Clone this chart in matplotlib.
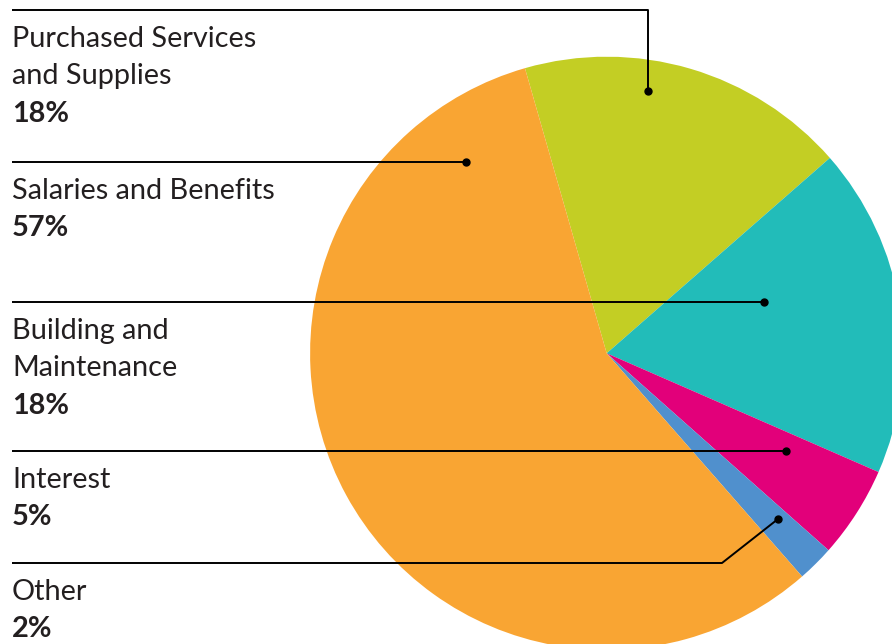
import matplotlib
matplotlib.use("Agg")
import matplotlib.pyplot as plt

# Slices in clockwise order, starting at the top edge of the orange slice
categories = ["Purchased Services\nand Supplies", "Building and\nMaintenance", "Interest", "Other", "Salaries and Benefits"]
shares = [18, 18, 5, 2, 57]
colors = ["#C3CE24", "#22BCB9", "#E2007A", "#5090CD", "#F9A533"]

# Left-hand label blocks, top to bottom
label_names = ["Purchased Services\nand Supplies", "Salaries and Benefits", "Building and\nMaintenance", "Interest", "Other"]
label_pcts = ["18%", "57%", "18%", "5%", "2%"]

W, H = 892, 644
text_color = "#231F20"
plt.rcParams["font.family"] = ["Lato", "DejaVu Sans"]

fig = plt.figure(figsize=(W / 100, H / 100), dpi=100)
ax = fig.add_axes([0, 0, 1, 1])

# pixel coords with y measured from top of the image
def Y(y):
    return H - y

cx, cy, r = 606.7, 353.3, 296.6
ax.pie(shares, colors=colors, startangle=106.0, counterclock=False,
       center=(cx, Y(cy)), radius=r, wedgeprops=dict(linewidth=0))

# leader lines: (line y, path points after the horizontal run, dot)
leaders = [
    (10, [(648, 10), (648, 91)]),
    (162, [(466, 162)]),
    (302, [(764, 302)]),
    (451, [(786, 451)]),
    (563, [(722, 563), (778, 519)]),
]
for y0, pts in leaders:
    xs = [12] + [p[0] for p in pts]
    ys = [Y(y0)] + [Y(p[1]) for p in pts]
    ax.plot(xs, ys, color="black", lw=1.4, solid_capstyle="butt", zorder=5)
    ax.plot(xs[-1], ys[-1], "o", color="black", ms=5, zorder=6)

fs = 20.8
for (y0, _), name, pct in zip(leaders, label_names, label_pcts):
    lines = name.split("\n")
    base = y0 + 36.5
    for k, ln in enumerate(lines):
        ax.text(12, Y(base + 37.7 * k), ln, fontsize=fs, color=text_color,
                ha="left", va="baseline")
    ax.text(12, Y(base + 37.7 * len(lines)), pct, fontsize=fs, color=text_color,
            fontweight="bold", ha="left", va="baseline")

ax.set_xlim(0, W)
ax.set_ylim(0, H)
ax.set_aspect("auto")
ax.axis("off")
fig.savefig("out.png", dpi=100)
